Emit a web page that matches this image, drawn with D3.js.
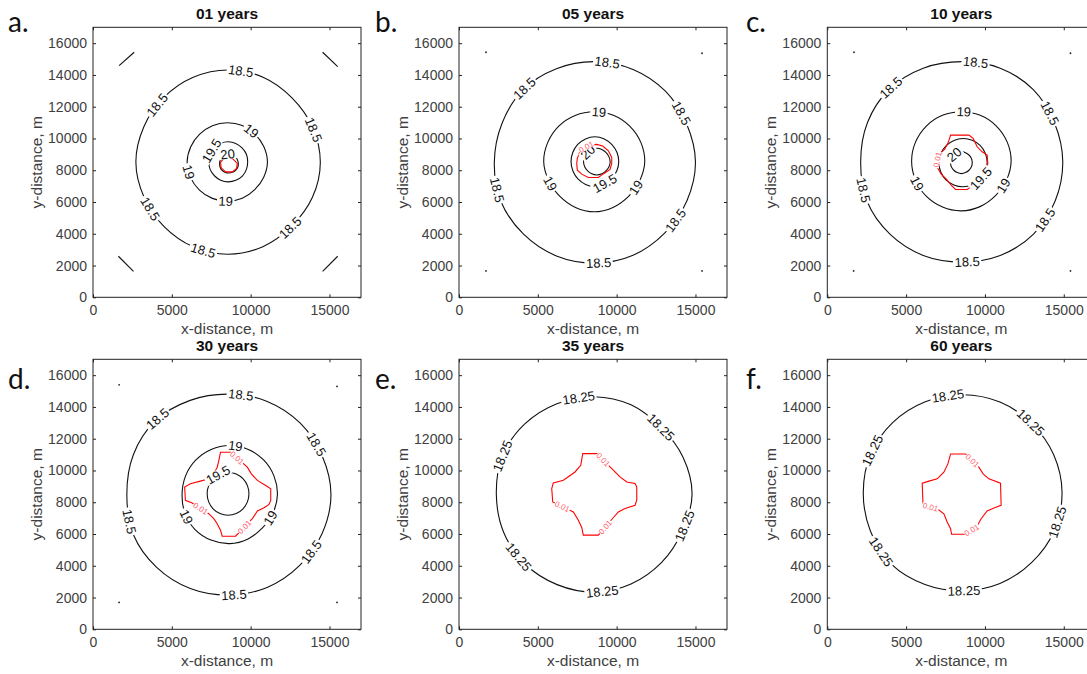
<!DOCTYPE html>
<html>
<head>
<meta charset="utf-8">
<script src="https://cdn.jsdelivr.net/npm/d3@7"></script>
<style>
  body { margin: 0; background: #fff; }
  svg { display: block; }
</style>
</head>
<body>
<svg id="fig" width="1087" height="674"></svg>
<script>
// Model domain (m) and axis ticks
const axisMax = 17000;
const xTicks = [0, 5000, 10000, 15000];
const yTicks = [0, 2000, 4000, 6000, 8000, 10000, 12000, 14000, 16000];

const panelLetters = ["a.", "b.", "c.", "d.", "e.", "f."];
const panelTitles = ["01 years", "05 years", "10 years", "30 years", "35 years", "60 years"];

// Closed temperature isolines: level, centre [x, y] (m) and radius (m)
// at 16 bearings, clockwise from north.
const rings01 = [
  { level: 18.5, c: [8570, 8510], r: [5800, 5790, 5730, 5790, 5850, 5790, 5700, 5760, 5800, 5770, 5740, 5770, 5850, 5790, 5760, 5780] },
  { level: 19,   c: [8520, 8520], r: [2470, 2480, 2480, 2510, 2545, 2500, 2460, 2470, 2470, 2480, 2500, 2530, 2550, 2510, 2480, 2470] },
  { level: 19.5, c: [8576, 8530], r: [1260, 1250, 1240, 1250, 1235, 1250, 1270, 1260, 1260, 1250, 1240, 1240, 1235, 1250, 1270, 1260] },
  { level: 20,   c: [8620, 8420], r: [600, 600, 590, 590, 600, 610, 600, 590, 590, 600, 610, 600, 590, 590, 600, 600] }
];
const rings05 = [
  { level: 18.5, c: [8620, 8500], r: [6340, 6330, 6330, 6300, 6380, 6320, 6280, 6330, 6340, 6380, 6400, 6450, 6380, 6380, 6450, 6380] },
  { level: 19,   c: [8578, 8532], r: [3150, 3170, 3180, 3200, 3205, 3120, 3080, 3110, 3150, 3110, 3080, 3120, 3205, 3190, 3180, 3160] },
  { level: 19.5, c: [8620, 8532], r: [1575, 1560, 1530, 1520, 1513, 1500, 1480, 1500, 1575, 1540, 1520, 1510, 1513, 1520, 1540, 1560] },
  { level: 20,   c: [8740, 8540], r: [840, 830, 820, 830, 850, 840, 820, 830, 840, 830, 820, 830, 840, 830, 820, 830] }
];
const rings10 = [
  { level: 18.5, c: [8527, 8532], r: [6306, 6380, 6420, 6370, 6410, 6420, 6440, 6380, 6306, 6380, 6440, 6500, 6410, 6470, 6480, 6380] },
  { level: 19,   c: [8504, 8564], r: [3122, 3130, 3140, 3150, 3156, 3100, 3060, 3090, 3122, 3120, 3130, 3140, 3156, 3150, 3140, 3130] },
  { level: 19.5, c: [8610, 8478], r: [1520, 1520, 1530, 1530, 1530, 1520, 1510, 1510, 1520, 1520, 1530, 1530, 1530, 1520, 1510, 1510] },
  { level: 20,   c: [8505, 8480], r: [690, 680, 680, 690, 690, 690, 680, 680, 690, 680, 680, 690, 690, 690, 680, 680] }
];
const rings30 = [
  { level: 18.5, c: [8620, 8482], r: [6324, 6350, 6380, 6400, 6476, 6400, 6330, 6330, 6324, 6400, 6480, 6560, 6474, 6560, 6580, 6420] },
  { level: 19,   c: [8675, 8481], r: [3087, 3080, 3060, 3040, 3025, 2980, 2950, 3020, 3086, 3100, 3110, 3080, 3025, 3040, 3060, 3080] },
  { level: 19.5, c: [8567, 8535], r: [1358, 1350, 1340, 1330, 1325, 1330, 1340, 1350, 1358, 1350, 1340, 1330, 1325, 1330, 1340, 1350] }
];
const rings35 = [
  { level: 18.25, c: [8576, 8495], r: [6150, 6100, 5980, 6100, 6208, 6050, 6050, 6100, 6151, 6150, 6200, 6220, 6208, 6300, 6250, 6180] }
];
const rings60 = [
  { level: 18.25, c: [8587, 8598], r: [6170, 6180, 6180, 6250, 6305, 6280, 6200, 6180, 6170, 6250, 6380, 6330, 6306, 6320, 6260, 6200] }
];

// Tracer isoline (level 0.01): vertices [x, y] in m
const tracerLevel = 0.01;
const outline01 = [[8299, 8745], [8834, 8745], [9153, 8430], [9108, 8115], [8834, 7900], [8408, 7900], [8134, 8152], [8089, 8493]];
const outline05 = [[7468, 8430], [7506, 8008], [7785, 7755], [8204, 7547], [8839, 7547], [9201, 7800], [9581, 8051], [9689, 8430],
  [9689, 8808], [9476, 9225], [9118, 9521], [8737, 9628], [8312, 9584], [7887, 9376], [7633, 9061], [7506, 8745]];
const outline10 = [[7820, 10214], [8980, 10214], [9253, 10004], [9506, 9477], [9823, 9161], [10140, 8953], [10184, 8430], [10101, 8115],
  [9823, 7800], [9506, 7377], [9189, 6999], [8872, 6791], [8137, 6791], [7858, 7062], [7566, 7421], [7224, 7755],
  [7015, 8115], [6971, 8638], [7142, 9060], [7440, 9313], [7649, 9691], [7776, 10069]];
const outline30 = [[8089, 11148], [8726, 11148], [9790, 10207], [10045, 9787], [10427, 9373], [10955, 9059], [11274, 8846], [11274, 8118],
  [11166, 7867], [10849, 7654], [10427, 7447], [10108, 6964], [9045, 5859], [8197, 5859], [8089, 6236], [7879, 6650],
  [7662, 6964], [7344, 7277], [6287, 7949], [5860, 8118], [5815, 8952], [6178, 9159], [6815, 9329], [7344, 9473],
  [7662, 9787], [7879, 10207], [7981, 10627]];
const outline35 = [[7849, 11062], [8775, 11062], [9581, 10220], [9898, 9906], [10216, 9592], [10641, 9277], [11168, 9177], [11275, 8963],
  [11275, 8127], [11168, 7813], [10533, 7605], [10108, 7392], [9689, 6914], [8839, 5927], [7887, 5927], [7786, 6411],
  [7570, 6870], [7253, 7392], [5945, 8020], [5882, 8862], [5983, 9214], [6618, 9384], [7360, 9906], [7722, 10327]];
const outline60 = [[7820, 11041], [8771, 11041], [9613, 10207], [9886, 9787], [10247, 9473], [10988, 9203], [11027, 7804], [10608, 7654],
  [10139, 7447], [9759, 6964], [9468, 6443], [8707, 5985], [7883, 5985], [7820, 6336], [7605, 6757], [7395, 7277],
  [6971, 7591], [6128, 7804], [6065, 8011], [6020, 9203], [6445, 9329], [6971, 9473], [7395, 9893], [7649, 10414]];

// Inline labels: [level, x, y] near the isoline they annotate
const labels01 = [[18.5, 9363, 14206], [18.5, 4055, 12106], [18.5, 13928, 10530], [18.5, 3631, 5593], [18.5, 12442, 4432], [18.5, 7028, 3070],
  [19, 10000, 10422], [19, 6070, 7900], [19, 8408, 6009], [19.5, 7662, 9162], [20, 8554, 8953]];
const labels05 = [[18.5, 9391, 14773], [18.5, 4146, 13159], [18.5, 14107, 11582], [18.5, 2369, 6747], [18.5, 13727, 4855], [18.5, 8862, 2226],
  [19, 8862, 11645], [19, 5795, 7169], [19, 11189, 6955], [19.5, 9180, 7270], [20, 8333, 8953], [0.01, 8058, 9477]];
const labels10 = [[18.5, 9404, 14773], [18.5, 4018, 13222], [18.5, 14113, 11582], [18.5, 2218, 6747], [18.5, 13840, 4855], [18.5, 8872, 2183],
  [19, 8663, 11582], [19, 5703, 7169], [19, 11153, 7060], [19.5, 9506, 7691], [20, 8073, 8953], [0.01, 6762, 8743]];
const labels30 = [[18.5, 9363, 14768], [18.5, 4057, 13281], [18.5, 14140, 11631], [18.5, 2248, 6757], [18.5, 13822, 4875], [18.5, 8938, 2258],
  [19, 9045, 11631], [19, 5860, 7070], [19, 11169, 7070], [19.5, 8089, 9473], [0.01, 9151, 10834], [0.01, 6815, 7591], [0.01, 9469, 6568]];
const labels35 = [[18.25, 7593, 14494], [18.25, 12775, 12715], [18.25, 2728, 10936], [18.25, 14255, 6537], [18.25, 3786, 4544], [18.25, 9074, 2344],
  [0.01, 9179, 10723], [0.01, 6535, 7687], [0.01, 9391, 6323]];
const labels60 = [[18.25, 7649, 14642], [18.25, 12890, 13030], [18.25, 2852, 11255], [18.25, 14575, 6757], [18.25, 3384, 4875], [18.25, 8663, 2365],
  [0.01, 9189, 10627], [0.01, 6553, 7654], [0.01, 9087, 6336]];

// Short isoline fragments in the corners (year 1) and isolated corner points (later years)
const cornerSegments01 = [[[1656, 14584], [2611, 15429]], [[14567, 15429], [15522, 14521]], [[1611, 2585], [2567, 1639]], [[14567, 1639], [15522, 2585]]];
const cornerDots05 = [[1713, 15429], [15419, 15366], [1713, 1658], [15419, 1658]];
const cornerDots10 = [[1692, 15429], [15425, 15366], [1670, 1658], [15425, 1658]];
const cornerDots30 = [[1656, 15395], [15478, 15290], [1656, 1694], [15478, 1694]];

const panels = [
  { rings: rings01, outline: outline01, labels: labels01, segments: cornerSegments01, dots: [] },
  { rings: rings05, outline: outline05, labels: labels05, segments: [], dots: cornerDots05 },
  { rings: rings10, outline: outline10, labels: labels10, segments: [], dots: cornerDots10 },
  { rings: rings30, outline: outline30, labels: labels30, segments: [], dots: cornerDots30 },
  { rings: rings35, outline: outline35, labels: labels35, segments: [], dots: [] },
  { rings: rings60, outline: outline60, labels: labels60, segments: [], dots: [] }
];

// ---- layout ----
const colLeft = [93, 459, 827.3];
const rowTop = [27.3, 359.3];
const boxW = 268, boxH = 270;
const letterX = [8, 375, 746];
const letterBase = [32, 389];

const svg = d3.select("#fig");
const fontMain = "Liberation Sans, Arial, Helvetica, sans-serif";

function ringPoints(ring) {
  const n = ring.r.length;
  return ring.r.map((rad, i) => {
    const p = d3.pointRadial(i * 2 * Math.PI / n, rad);
    return [ring.c[0] + p[0], ring.c[1] - p[1]];
  });
}

function placeOnPath(node, px, py) {
  const L = node.getTotalLength();
  let best = 0, bd = Infinity;
  for (let s = 0; s <= L; s += 0.5) {
    const p = node.getPointAtLength(s);
    const d = (p.x - px) ** 2 + (p.y - py) ** 2;
    if (d < bd) { bd = d; best = s; }
  }
  const p = node.getPointAtLength(best);
  const a = node.getPointAtLength((best - 4 + L) % L);
  const b = node.getPointAtLength((best + 4) % L);
  let ang = Math.atan2(b.y - a.y, b.x - a.x) * 180 / Math.PI;
  if (ang > 90) ang -= 180;
  if (ang <= -90) ang += 180;
  return { x: p.x, y: p.y, ang };
}

panels.forEach((pd, i) => {
  const col = i % 3, row = Math.floor(i / 3);
  const x0 = colLeft[col], y0 = rowTop[row];
  const x = d3.scaleLinear().domain([0, axisMax]).range([x0, x0 + boxW]);
  const y = d3.scaleLinear().domain([0, axisMax]).range([y0 + boxH, y0]);
  const g = svg.append("g");

  // panel letter and title
  g.append("text").attr("x", letterX[col]).attr("y", letterBase[row])
    .attr("font-family", "Lato, 'Open Sans', sans-serif").attr("font-size", 28).attr("fill", "#111")
    .text(panelLetters[i]);
  g.append("text").attr("x", x0 + boxW / 2).attr("y", y0 - 8.5)
    .attr("text-anchor", "middle").attr("font-family", fontMain).attr("font-weight", "bold")
    .attr("font-size", 15.5).attr("fill", "#111").text(panelTitles[i]);

  // axes (ticks pointing inward, as on all four sides)
  const axB = d3.axisBottom(x).tickValues(xTicks).tickSize(-3).tickSizeOuter(0).tickPadding(8).tickFormat(d3.format("d"));
  const axL = d3.axisLeft(y).tickValues(yTicks).tickSize(-3).tickSizeOuter(0).tickPadding(6).tickFormat(d3.format("d"));
  const axT = d3.axisTop(x).tickValues(xTicks).tickSize(-3).tickSizeOuter(0).tickFormat("");
  const axR = d3.axisRight(y).tickValues(yTicks).tickSize(-3).tickSizeOuter(0).tickFormat("");
  const styleAxis = sel => {
    sel.select(".domain").remove();
    sel.selectAll("line").attr("stroke", "#222");
    sel.selectAll("text").attr("font-family", fontMain).attr("font-size", 14).attr("fill", "#404040");
  };
  g.append("g").attr("transform", `translate(0,${y0 + boxH})`).call(axB).call(styleAxis);
  g.append("g").attr("transform", `translate(${x0},0)`).call(axL).call(styleAxis);
  g.append("g").attr("transform", `translate(0,${y0})`).call(axT).call(styleAxis);
  g.append("g").attr("transform", `translate(${x0 + boxW},0)`).call(axR).call(styleAxis);

  g.append("text").attr("x", x0 + boxW / 2).attr("y", y0 + boxH + 36.5)
    .attr("text-anchor", "middle").attr("font-family", fontMain).attr("font-size", 15.5)
    .attr("fill", "#404040").text("x-distance, m");
  g.append("text").attr("transform", `translate(${x0 - 51},${y0 + boxH / 2}) rotate(-90)`)
    .attr("text-anchor", "middle").attr("font-family", fontMain).attr("font-size", 15.5)
    .attr("fill", "#404040").text("y-distance, m");

  const plot = g.append("g");
  const lineClosed = d3.line().x(d => x(d[0])).y(d => y(d[1])).curve(d3.curveCatmullRomClosed.alpha(0.5));
  const linePoly = d3.line().x(d => x(d[0])).y(d => y(d[1])).curve(d3.curveLinearClosed);
  const lineOpen = d3.line().x(d => x(d[0])).y(d => y(d[1]));

  const pathsByLevel = new Map();
  pd.rings.forEach(r => {
    const node = plot.append("path").attr("d", lineClosed(ringPoints(r)))
      .attr("fill", "none").attr("stroke", "#111").attr("stroke-width", 1.1).node();
    pathsByLevel.set(r.level, node);
  });
  const tracer = plot.append("path").attr("d", linePoly(pd.outline))
    .attr("fill", "none").attr("stroke", "#ff0000").attr("stroke-width", 1.1).node();
  pathsByLevel.set(tracerLevel, tracer);

  pd.segments.forEach(s => {
    plot.append("path").attr("d", lineOpen(s)).attr("fill", "none").attr("stroke", "#111").attr("stroke-width", 1.1);
  });
  pd.dots.forEach(d => {
    plot.append("circle").attr("cx", x(d[0])).attr("cy", y(d[1])).attr("r", 0.9).attr("fill", "#222");
  });

  // inline labels, rotated along the isoline with a gap cut in the line
  pd.labels.forEach(([lev, lx, ly]) => {
    const node = pathsByLevel.get(lev);
    const pos = placeOnPath(node, x(lx), y(ly));
    const isTracer = lev === tracerLevel;
    const fs = isTracer ? 8 : 13;
    const lg = plot.append("g").attr("transform", `translate(${pos.x},${pos.y}) rotate(${pos.ang})`);
    const rect = lg.append("rect").attr("fill", "#fff");
    const t = lg.append("text").attr("text-anchor", "middle").attr("dy", "0.35em")
      .attr("font-family", fontMain).attr("font-size", fs)
      .attr("fill", isTracer ? "#ff5c6c" : "#111").text(String(lev));
    const w = t.node().getComputedTextLength() + (isTracer ? 1 : 3);
    const h = isTracer ? 6 : 10;
    rect.attr("x", -w / 2).attr("y", -h / 2).attr("width", w).attr("height", h);
  });

  // axes box
  g.append("rect").attr("x", x0).attr("y", y0).attr("width", boxW).attr("height", boxH)
    .attr("fill", "none").attr("stroke", "#222").attr("stroke-width", 1);
});
</script>
</body>
</html>
